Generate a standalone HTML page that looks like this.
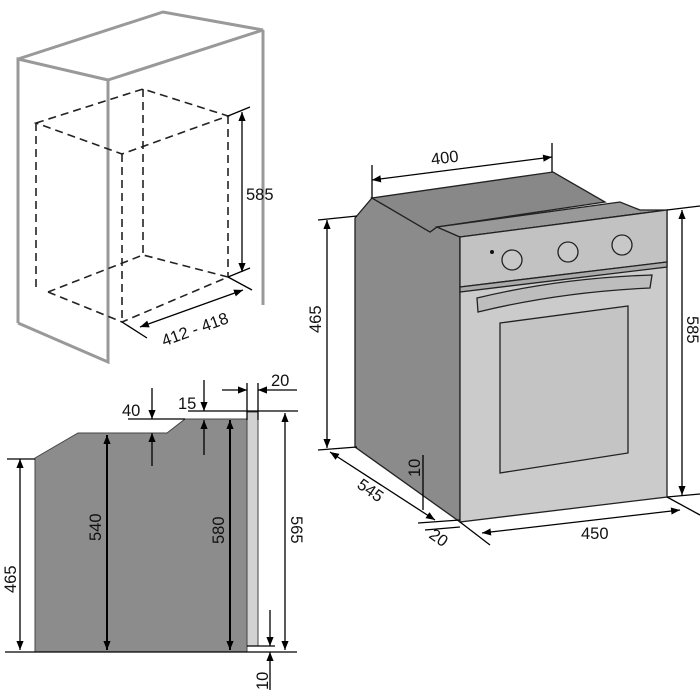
<!DOCTYPE html>
<html><head><meta charset="utf-8"><style>
html,body{margin:0;padding:0;background:#fff;width:700px;height:700px;overflow:hidden}
text{font-family:"Liberation Sans",sans-serif;font-size:16.5px;fill:#111}
</style></head><body>
<svg width="700" height="700" viewBox="0 0 700 700" xmlns="http://www.w3.org/2000/svg">
<defs>
<marker id="a" viewBox="0 0 10 10" refX="10" refY="5" markerWidth="9" markerHeight="9" orient="auto-start-reverse" markerUnits="userSpaceOnUse"><path d="M0,1 L10,5 L0,9 z" fill="#000"/></marker>
</defs>
<!-- cabinet -->
<g fill="none" stroke="#999" stroke-width="3">
<path d="M18,323 L18,59 L108,80 L108,362 L18,323"/>
<path d="M18,59 L163,12 L263,30 L108,80"/>
<path d="M263,30 L263,305"/>
</g>
<g fill="none" stroke="#222" stroke-width="1.6" stroke-dasharray="8,5">
<path d="M36,123 L143,89 L228,116 L122,154 Z"/>
<path d="M36,123 L36,287 M122,154 L122,322 M228,116 L228,277 M143,89 L143,255"/>
<path d="M48,292 L122,322 L228,277 L143,255 L48,292"/>
</g>
<g stroke="#000" stroke-width="1.3" fill="none">
<line x1="228" y1="116" x2="250" y2="107"/><line x1="228" y1="277" x2="250" y2="268"/>
<line x1="242" y1="112" x2="242" y2="272" marker-start="url(#a)" marker-end="url(#a)"/>
<line x1="122" y1="322" x2="147" y2="338"/><line x1="228" y1="277" x2="252" y2="290"/>
<line x1="140" y1="327" x2="243" y2="290" marker-start="url(#a)" marker-end="url(#a)"/>
</g>
<text x="246" y="200" font-size="17">585</text>
<text x="158" y="338" font-size="17" transform="rotate(-20 185 325)">412 - 418</text>

<!-- oven -->
<g stroke="#222" stroke-width="1.3">
<polygon points="355,218 372,198 430,232 437,227 460,237 460,522 355,447" fill="#8b8b8b"/>
<polygon points="372,198 553,172 605,202 437,227 430,232" fill="#888"/>
<polygon points="437,227 620,202 640,210 667,210 460,237" fill="#999"/>
<polygon points="460,237 667,210 667,497 460,522" fill="#cbcbcb"/>
<polygon points="460,237 667,210 667,262 460,287" fill="#c2c2c2"/>
<polygon points="460,287 667,262 667,267 460,292" fill="#aaa"/>
<path d="M477,298 Q560,278 652,275 L650,288 Q560,292 478,312 Z" fill="#bdbdbd"/>
<polygon points="500,323 628,306 628,453 500,473" fill="#c4c4c4"/>
<circle cx="512" cy="260" r="10" fill="#c8c8c8"/>
<circle cx="568" cy="252" r="10" fill="#c8c8c8"/>
<circle cx="622" cy="245" r="10" fill="#c8c8c8"/>
</g>
<circle cx="492" cy="252" r="2" fill="#111"/>
<g stroke="#000" stroke-width="1.3" fill="none">
<line x1="372" y1="165" x2="372" y2="198"/><line x1="552" y1="143" x2="552" y2="172"/>
<line x1="372" y1="180" x2="552" y2="157" marker-start="url(#a)" marker-end="url(#a)"/>
<line x1="318" y1="220" x2="357" y2="216"/><line x1="318" y1="450" x2="357" y2="447"/>
<line x1="327" y1="220" x2="327" y2="448" marker-start="url(#a)" marker-end="url(#a)"/>
<line x1="667" y1="210" x2="700" y2="206"/><line x1="667" y1="497" x2="700" y2="494"/>
<line x1="682" y1="210" x2="682" y2="495" marker-start="url(#a)" marker-end="url(#a)"/>
<line x1="460" y1="522" x2="490" y2="545"/><line x1="667" y1="497" x2="700" y2="515"/>
<line x1="482" y1="533" x2="680" y2="510" marker-start="url(#a)" marker-end="url(#a)"/>
<line x1="330" y1="452" x2="435" y2="520" marker-start="url(#a)" marker-end="url(#a)"/>
<line x1="423" y1="455" x2="423" y2="510"/>
<line x1="418" y1="523" x2="460" y2="520"/><line x1="425" y1="530" x2="460" y2="527"/>
</g>
<text x="431" y="163" transform="rotate(-7 447 158)">400</text>
<text x="0" y="0" transform="translate(321,333) rotate(-90)">465</text>
<text x="0" y="0" transform="translate(687,316) rotate(90)">585</text>
<text x="581" y="539">450</text>
<text x="0" y="0" transform="translate(356,487) rotate(35)">545</text>
<text x="0" y="0" transform="translate(420,477) rotate(-90)" font-size="14">10</text>
<text x="0" y="0" transform="translate(428,537) rotate(35)" font-size="15">20</text>

<!-- side view -->
<polygon points="35,458 78,433 167,433 185,419 247,419 247,652 35,652" fill="#8c8c8c" stroke="#444" stroke-width="1"/>
<rect x="247" y="412" width="11" height="234" fill="#d2d2d2" stroke="#444" stroke-width="1"/>
<g stroke="#000" stroke-width="1.3" fill="none">
<line x1="5" y1="652" x2="297" y2="652"/>
<line x1="7" y1="459" x2="35" y2="459"/>
<line x1="20" y1="459" x2="20" y2="650" marker-start="url(#a)" marker-end="url(#a)"/>
<line x1="107" y1="435" x2="107" y2="650" stroke-width="2" marker-start="url(#a)" marker-end="url(#a)"/>
<line x1="230" y1="420" x2="230" y2="650" stroke-width="2" marker-start="url(#a)" marker-end="url(#a)"/>
<line x1="188" y1="411" x2="298" y2="411"/>
<line x1="285" y1="413" x2="285" y2="650" marker-start="url(#a)" marker-end="url(#a)"/>
<line x1="128" y1="419" x2="185" y2="419"/>
<line x1="152" y1="388" x2="152" y2="419" marker-end="url(#a)"/>
<line x1="152" y1="466" x2="152" y2="433" marker-end="url(#a)"/>
<line x1="204" y1="380" x2="204" y2="411" marker-end="url(#a)"/>
<line x1="204" y1="455" x2="204" y2="420" marker-end="url(#a)"/>
<line x1="247" y1="383" x2="247" y2="420"/><line x1="258" y1="383" x2="258" y2="420"/>
<line x1="222" y1="390" x2="247" y2="390" marker-end="url(#a)"/>
<line x1="297" y1="390" x2="258" y2="390" marker-end="url(#a)"/>
<line x1="247" y1="646" x2="275" y2="646"/>
<line x1="270" y1="610" x2="270" y2="646" marker-end="url(#a)"/>
<line x1="270" y1="690" x2="270" y2="652" marker-end="url(#a)"/>
</g>
<text x="0" y="0" transform="translate(16,593) rotate(-90)">465</text>
<text x="0" y="0" transform="translate(101,541) rotate(-90)">540</text>
<text x="0" y="0" transform="translate(224,544) rotate(-90)">580</text>
<text x="0" y="0" transform="translate(291,516) rotate(90)">565</text>
<text x="122" y="416">40</text>
<text x="178" y="409">15</text>
<text x="271" y="386">20</text>
<text x="0" y="0" transform="translate(268,690) rotate(-90)" font-size="15">10</text>
</svg>
</body></html>
